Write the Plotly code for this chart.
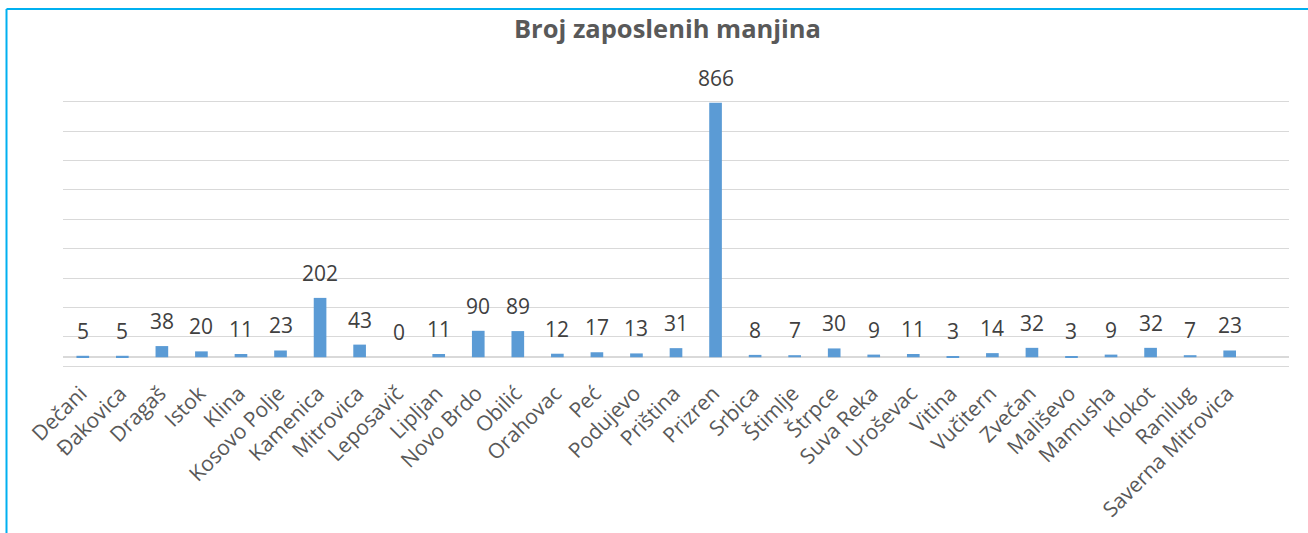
import plotly.graph_objects as go

categories = ["Dečani", "Đakovica", "Dragaš", "Istok", "Klina", "Kosovo Polje", "Kamenica",
              "Mitrovica", "Leposavič", "Lipljan", "Novo Brdo", "Obilić", "Orahovac", "Peć",
              "Podujevo", "Priština", "Prizren", "Srbica", "Štimlje", "Štrpce", "Suva Reka",
              "Uroševac", "Vitina", "Vučitern", "Zvečan", "Mališevo", "Mamusha", "Klokot",
              "Ranilug", "Saverna Mitrovica"]
values = [5, 5, 38, 20, 11, 23, 202, 43, 0, 11, 90, 89, 12, 17, 13, 31, 866, 8, 7, 30, 9,
          11, 3, 14, 32, 3, 9, 32, 7, 23]
title_text = "Broj zaposlenih manjina"

W, H = 1308, 533
L, R, T, B = 63, 19, 99.6, 165.2

fig = go.Figure()
fig.add_trace(go.Bar(x=categories, y=values, marker=dict(color="#5B9BD5", line=dict(width=0)),
                     hoverinfo="x+y"))

annotations = []
for c, v in zip(categories, values):
    annotations.append(dict(x=c, y=v, xref="x", yref="y", text=str(v), showarrow=False,
                            yanchor="bottom", yshift=9,
                            font=dict(family="Open Sans", size=21, color="#404040")))

pw = W - L - R
ph = H - T - B
shapes = [
    dict(type="line", xref="paper", yref="paper",
         x0=(6.5 - L) / pw, x1=(W + 10 - L) / pw,
         y0=1 + (T - 8.5) / ph, y1=1 + (T - 8.5) / ph,
         line=dict(color="#00B0F0", width=2)),
    dict(type="line", xref="paper", yref="paper",
         x0=(6.5 - L) / pw, x1=(6.5 - L) / pw,
         y0=1 + (T - 8.5) / ph, y1=-(B + 10) / ph,
         line=dict(color="#00B0F0", width=2)),
]

fig.update_layout(
    width=W, height=H,
    margin=dict(l=L, r=R, t=T, b=B, autoexpand=False),
    paper_bgcolor="white", plot_bgcolor="white",
    title=dict(text="<b>" + title_text + "</b>", x=667.5 / W, xanchor="center",
               y=1 - 29 / H, yanchor="middle", xref="container", yref="container",
               font=dict(family="Open Sans", size=25.5, color="#595959")),
    bargap=0.68,
    showlegend=False,
    annotations=annotations,
    shapes=shapes,
    xaxis=dict(type="category", range=[-0.5, 30.5], tickangle=-45,
               tickfont=dict(family="Open Sans", size=21, color="#595959"),
               showgrid=False, showline=False, ticks="", ticklen=0,
               ticklabelstandoff=8, ticklabelshift=-2, automargin=False),
    yaxis=dict(range=[-36.6, 875.4], tick0=-30.6, dtick=100, showticklabels=False,
               showgrid=True, gridcolor="#D9D9D9", gridwidth=1.3,
               zeroline=True, zerolinecolor="#D9D9D9", zerolinewidth=1.5,
               showline=False, fixedrange=True),
)

fig.write_html("out.html", post_script="document.body.style.margin='0px';",
               config={"displayModeBar": False})
